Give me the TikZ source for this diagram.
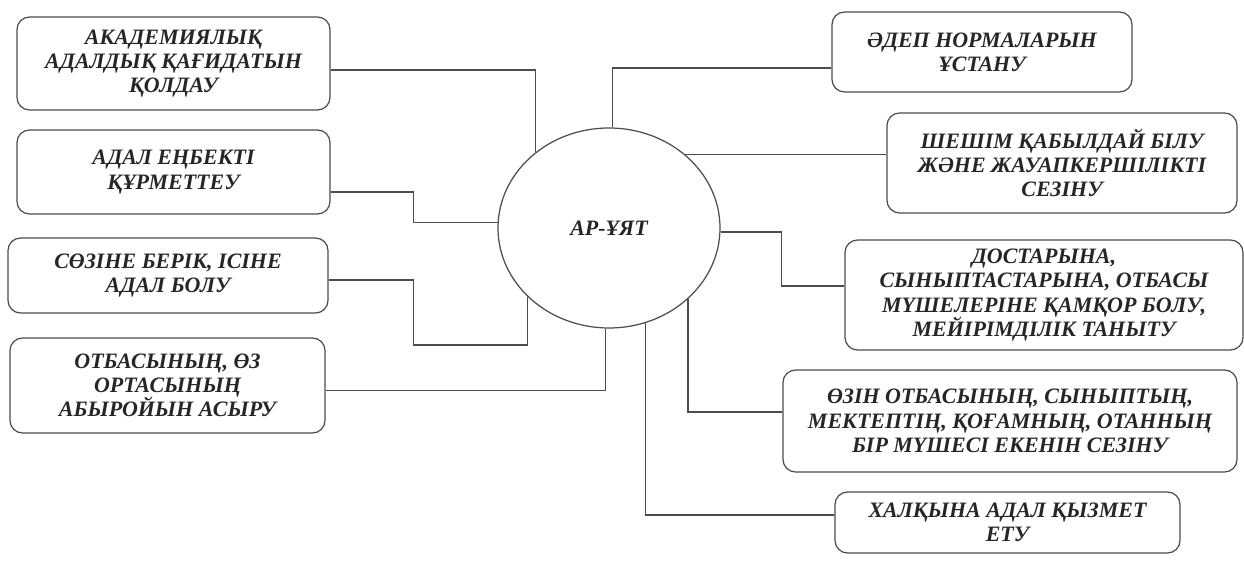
\documentclass[tikz,border=0pt]{standalone}
\usepackage{fontspec}
\setmainfont{Liberation Serif}
\usetikzlibrary{shapes.geometric, positioning}

\begin{document}
\begin{tikzpicture}[line width=0.7pt, draw=black!70, idea/.style={draw=black!70,shape=rectangle,rounded corners=0.25cm,align=center,inner sep=2pt}, core/.style={draw=black!70,shape=ellipse,minimum width=4.44cm,minimum height=4cm}, every node/.style={text=black!85,font=\fontsize{12.5}{13.8}\selectfont\bfseries\itshape}]

    \useasboundingbox (0,0) rectangle (24.88,-11.24);
    % Define the centre (node)
    \node[core] (ay) at (12.18,-4.56) {АР-ҰЯТ}; % the middle ellipse
    % Define the left boxes
    \node[idea, minimum width=6.26cm, minimum height=1.86cm] (akad) at (3.47,-1.27) {АКАДЕМИЯЛЫҚ\\АДАЛДЫҚ ҚАҒИДАТЫН\\ҚОЛДАУ};
    \node[idea, minimum width=6.26cm, minimum height=1.68cm] (enbek) at (3.47,-3.44) {АДАЛ ЕҢБЕКТІ\\ҚҰРМЕТТЕУ};
    \node[idea, minimum width=6.40cm, minimum height=1.50cm] (soz) at (3.36,-5.51) {СӨЗІНЕ БЕРІК, ІСІНЕ\\АДАЛ БОЛУ};
    \node[idea, minimum width=6.30cm, minimum height=1.90cm] (abyroi) at (3.35,-7.71) {ОТБАСЫНЫҢ, ӨЗ\\ОРТАСЫНЫҢ\\АБЫРОЙЫН АСЫРУ};
    % Define the right boxes
    \node[idea, minimum width=6.00cm, minimum height=1.60cm] (adep) at (19.64,-1.04) {ӘДЕП НОРМАЛАРЫН\\ҰСТАНУ};
    \node[idea, minimum width=7.00cm, minimum height=2.00cm] (sheshim) at (21.24,-3.26) {ШЕШІМ ҚАБЫЛДАЙ БІЛУ\\ЖӘНЕ ЖАУАПКЕРШІЛІКТІ\\СЕЗІНУ};
    \node[idea, minimum width=7.96cm, minimum height=2.20cm] (qamqor) at (20.88,-5.90) {ДОСТАРЫНА,\\СЫНЫПТАСТАРЫНА, ОТБАСЫ\\МҮШЕЛЕРІНЕ ҚАМҚОР БОЛУ,\\МЕЙІРІМДІЛІК ТАНЫТУ};
    \node[idea, minimum width=9.08cm, minimum height=2.04cm] (mushe) at (20.20,-8.42) {ӨЗІН ОТБАСЫНЫҢ, СЫНЫПТЫҢ,\\МЕКТЕПТІҢ, ҚОҒАМНЫҢ, ОТАННЫҢ\\БІР МҮШЕСІ ЕКЕНІН СЕЗІНУ};
    \node[idea, minimum width=6.90cm, minimum height=1.22cm] (halyq) at (20.15,-10.45) {ХАЛҚЫНА АДАЛ ҚЫЗМЕТ\\ЕТУ};
    % Define the connectors
    \draw ([yshift=-0.13cm]akad.east) -| (ay.134); % to the top left
    \draw ([yshift=-0.40cm]enbek.east) -- ++(1.66,0) |- (ay.177);
    \draw ([yshift=-0.09cm]soz.east) -| ++(1.7,-1.3) -| (ay.220);
    \draw ([yshift=-0.10cm]abyroi.east) -| (ay.268);
    \draw ([yshift=-0.32cm]adep.west) -| (ay.88); % to the top right
    \draw (ay.44) -- (ay.44 -| sheshim.west);
    \draw (ay.358) -- ++(1.22,0) |- ([yshift=0.18cm]qamqor.west);
    \draw (ay.318) |- ([yshift=0.18cm]mushe.west);
    \draw (ay.291) |- ([yshift=0.15cm]halyq.west);
\end{tikzpicture}
\end{document}
